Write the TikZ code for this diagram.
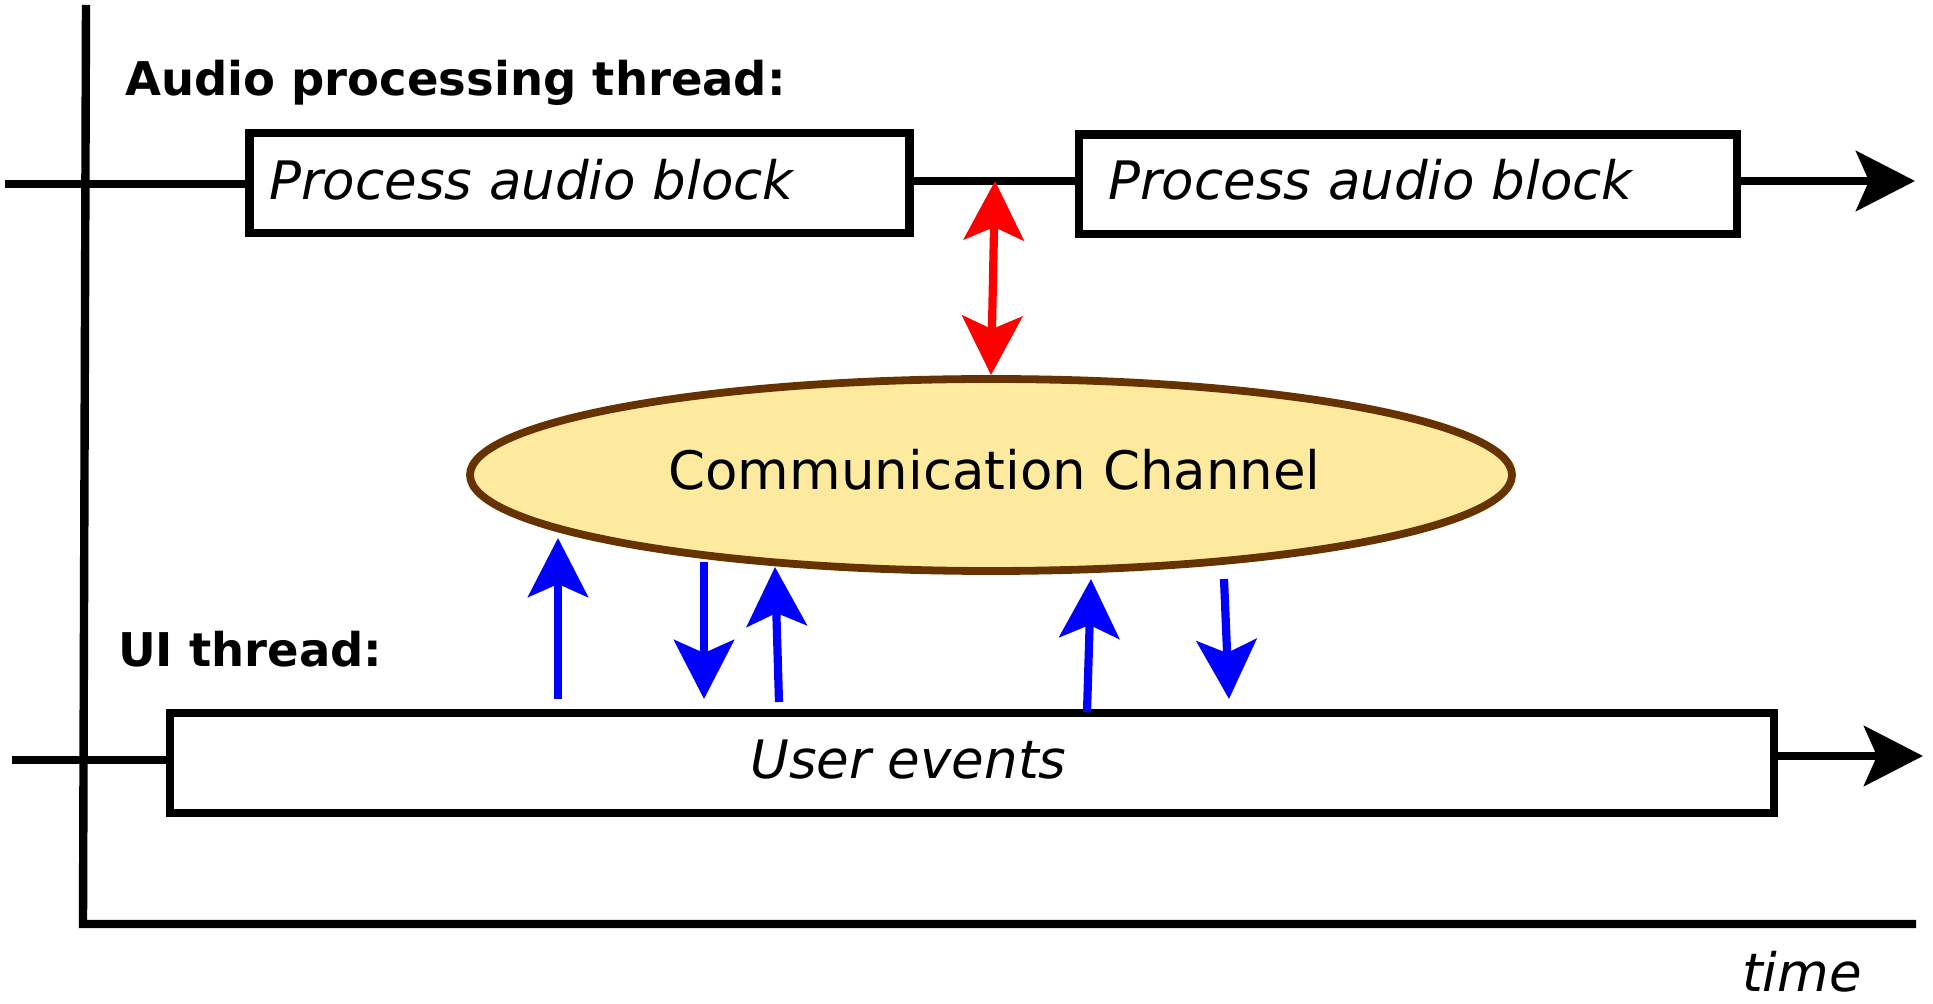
\documentclass[tikz,border=0pt]{standalone}
\usepackage{fontspec}
\setmainfont{DejaVu Sans}
\usetikzlibrary{arrows.meta,shapes.geometric}
\definecolor{channelfill}{HTML}{FDEA9E}
\definecolor{channeldraw}{HTML}{663300}
\tikzset{
  threadbox/.style={draw, line width=4.3pt, inner sep=0pt, fill=white},
  channel/.style={ellipse, draw=channeldraw, fill=channelfill, line width=3.9pt, inner sep=0pt},
  eventarrow/.style={->, blue, line width=4.1pt},
  syncarrow/.style={<->, red, line width=4.1pt},
  threadname/.style={font=\bfseries\fontsize{23.25}{28}\selectfont, anchor=base west, inner sep=0pt},
  blocktext/.style={font=\itshape\fontsize{26.5}{32}\selectfont, inner sep=0pt},
  channeltext/.style={font=\fontsize{26.5}{32}\selectfont, inner sep=0pt, anchor=base}
}
\newcommand{\uievent}[3]{
  \coordinate (#1a) at (#2);
  \coordinate (#1b) at (#3);
  \draw[eventarrow] (#1a) -- (#1b);
}

\begin{document}
\begin{tikzpicture}[x=0.5pt, y=-0.5pt, line width=4.2pt,
    >={Stealth[length=29.5pt,width=30pt,inset=6.5pt]}]
  \useasboundingbox (0,0) rectangle (1933,1004);

  % time axis
  \coordinate (axisTop) at (86,5);
  \coordinate (origin) at (83,924);
  \coordinate (axisEnd) at (1916,924);
  \draw[line join=miter] (axisTop) -- (origin) -- (axisEnd);
  \node[blocktext, anchor=base west] (timeLabel) at (1738,991) {time};

  % audio thread
  \node[threadname] (audioLabel) at (121,96) {Audio processing thread:};
  \node[threadbox, minimum width=330pt, minimum height=50pt] (audioA) at (579.5,183) {};
  \node[threadbox, minimum width=329pt, minimum height=49.75pt] (audioB) at (1408,184.25) {};
  \node[blocktext, anchor=base west] (audioAText) at (265,200) {Process audio block};
  \node[blocktext, anchor=base west] (audioBText) at (1104,200) {Process audio block};
  \coordinate (audioStart) at (5,184);
  \coordinate (chanTap) at (995,181);
  \coordinate (audioEnd) at (1915,181);
  \draw (audioStart) -- (audioA.west |- audioStart);
  \draw (audioA.east |- chanTap) -- (audioB.west |- chanTap);
  \draw[->] (audioB.east |- audioEnd) -- (audioEnd);

  % channel
  \node[channel, minimum width=521pt, minimum height=96pt] (chan) at (991,475) {};
  \node[channeltext] (chanText) at (994.5,490) {Communication Channel};
  \draw[syncarrow] (chanTap) -- (chan.north);

  % ui thread
  \node[threadname] (uiLabel) at (114,667) {UI thread:};
  \node[threadbox, minimum width=802pt, minimum height=50pt] (ui) at (972,763) {};
  \node[blocktext, anchor=base] (uiText) at (908.5,779) {User events};
  \coordinate (uiStart) at (12,760);
  \coordinate (uiEnd) at (1923,756);
  \draw (uiStart) -- (ui.west |- uiStart);
  \draw[->] (ui.east |- uiEnd) -- (uiEnd);

  % events between ui and channel
  \uievent{up1}{558,699}{558,538}
  \uievent{down1}{704,562}{704,699}
  \uievent{up2}{779,702}{775,567}
  \uievent{up3}{1087,712}{1091,579}
  \uievent{down2}{1224,579}{1229,699}
\end{tikzpicture}
\end{document}
